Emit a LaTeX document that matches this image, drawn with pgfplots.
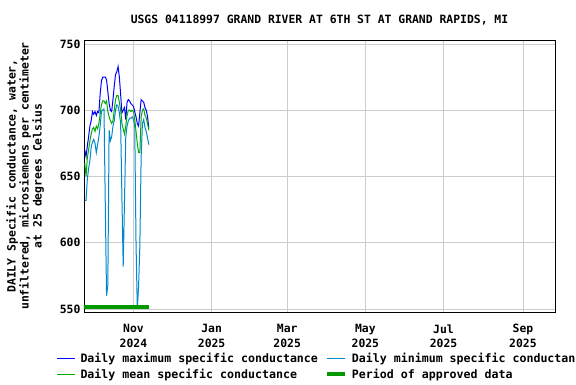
\documentclass[border=0pt]{standalone}
\usepackage{pgfplots}
\pgfplotsset{compat=1.18}
\usepackage{pgfplotstable}
\usepackage{fontspec}
\setmainfont{DejaVu Sans Mono}
\newcommand\ff{\fontsize{11.4pt}{13pt}\selectfont\bfseries}
\newcommand\fl{\fontsize{11.6pt}{13pt}\selectfont\bfseries}
\newcommand\fx{\fontsize{11.4pt}{14.5pt}\selectfont\bfseries}
\definecolor{seriesmaxcol}{RGB}{0,0,255}
\definecolor{seriesmincol}{RGB}{0,136,204}
\definecolor{seriesmeancol}{RGB}{0,170,0}
\definecolor{approvedcol}{RGB}{0,153,0}
\definecolor{gridcol}{RGB}{204,204,204}
\pgfplotstableread{
d max mean min
-38 670 660 632
-37 665 650 632
-36 673 664 648
-35 680 670 656
-34 688 677 662
-33 692 682 672
-32 699 686 676
-31 697 687 678
-30 699 684 675
-29 696 688 668
-28 699 686 674
-27 698 690 680
-26 712 697 688
-25 722 704 699
-24 725 707 700
-23 725 707 701
-22 725 705 630
-21 723 707 560
-20 714 699 568
-19 705 695 685
-18 700 692 677
-17 699 690 680
-16 708 692 688
-15 718 700 692
-14 727 708 700
-13 729 711 704
-12 733 711 703
-11 725 706 698
-10 712 700 690
-9 698 690 634
-8 700 686 582
-7 702 682 631
-6 693 688 680
-5 706 696 688
-4 708 700 692
-3 707 700 694
-2 705 699 694
-1 704 700 695
0 703 699 693
1 699 693 688
2 695 684 600
3 690 675 550
4 688 668 567
5 698 668 598
6 708 695 665
7 707 700 690
8 706 701 693
9 702 696 687
10 700 694 684
11 695 690 679
12 687 685 674
}\sc
\begin{document}
\begin{tikzpicture}[x=1pt,y=1pt]
\begin{axis}[
  at={(84pt,72pt)}, anchor=south west,
  width=471pt, height=272pt, scale only axis,
  xmin=-38.6, xmax=329, ymin=547.7, ymax=753,
  xtick={0,61,120,181,242,304},
  xticklabels={Nov\\2024,Jan\\2025,Mar\\2025,May\\2025,Jul\\2025,Sep\\2025},
  ytick={550,600,650,700,750},
  /pgf/number format/assume math mode=true,
  tick label style={font=\ff},
  xticklabel style={align=center, font=\fx, yshift=-9pt},
  major tick length=0pt,
  grid=major,
  grid style={gridcol, line width=0.8pt},
  axis line style={black, line width=0.9pt},
  title={USGS 04118997 GRAND RIVER AT 6TH ST AT GRAND RAPIDS, MI},
  title style={font=\ff, at={(axis description cs:0.5,1)}, anchor=base, yshift=11pt},
  ylabel={DAILY Specific conductance, water,\\unfiltered, microsiemens per centimeter\\at 25 degrees Celsius},
  every axis y label/.style={at={(axis description cs:-0.125,0.5)}, rotate=90, anchor=center, align=center, font=\ff},
  legend columns=2,
  legend style={at={(axis description cs:-0.059,-0.142)}, anchor=north west, draw=none, fill=none, font=\fl,
     /tikz/every even column/.append style={column sep=5pt}, row sep=1pt, inner sep=0pt},
  legend cell align=left,
  legend image code/.code={\draw[#1] (0pt,0pt) -- (18pt,0pt); \path (21pt,0pt);},
]
\addlegendimage{draw=seriesmaxcol, line width=1.1pt}
\addlegendentry{Daily maximum specific conductance}
\addlegendimage{draw=seriesmincol, line width=1.1pt}
\addlegendentry{Daily minimum specific conductance}
\addlegendimage{draw=seriesmeancol, line width=1.1pt}
\addlegendentry{Daily mean specific conductance}
\addlegendimage{draw=approvedcol, line width=4pt}
\addlegendentry{Period of approved data}
\addplot[draw=seriesmaxcol, line width=1pt, forget plot] table[x=d, y=max] {\sc};
\addplot[draw=seriesmincol, line width=1pt, forget plot] table[x=d, y=min] {\sc};
\addplot[draw=seriesmeancol, line width=1pt, forget plot] table[x=d, y=mean] {\sc};
\addplot[draw=approvedcol, line width=4.5pt, forget plot] coordinates {(-39.5,551.3) (12.3,551.3)};
\end{axis}
\pgfresetboundingbox
\useasboundingbox (0,0) rectangle (576pt,384pt);
\end{tikzpicture}
\end{document}
